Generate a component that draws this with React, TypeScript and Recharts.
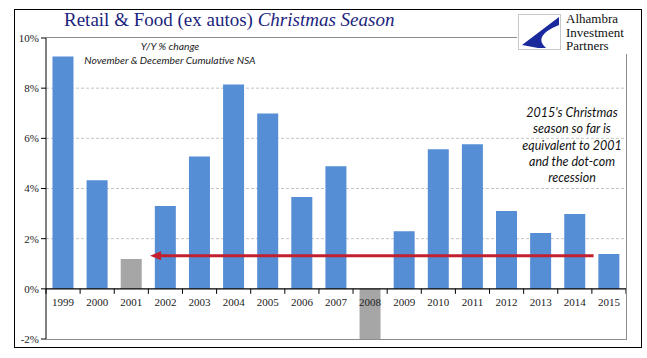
import { BarChart, Bar, Cell, XAxis, YAxis, CartesianGrid, ReferenceLine } from "recharts";

const years = ["1999", "2000", "2001", "2002", "2003", "2004", "2005", "2006", "2007", "2008", "2009", "2010", "2011", "2012", "2013", "2014", "2015"];
const yoyChange = [9.26, 4.33, 1.19, 3.3, 5.28, 8.15, 6.99, 3.66, 4.89, -2.0, 2.3, 5.56, 5.76, 3.1, 2.23, 2.98, 1.39];
const recessionYears = ["2001", "2008"];
const yTicks = [-2, 0, 2, 4, 6, 8, 10];
const arrowLevel = 1.32;
const noteLines = ["2015's Christmas", "season so far is", "equivalent to 2001", "and the dot-com", "recession"];

const data = years.map((year, i) => ({ year, value: yoyChange[i] }));

const W = 647;
const H = 358;
const PLOT_LEFT = 46;
const PLOT_TOP = 38;
const PLOT_W = 580;
const PLOT_H = 301;
const Y_MIN = -2;
const Y_MAX = 10;
const BAND = PLOT_W / years.length;
const ZERO_OFFSET = (PLOT_H * (0 - Y_MIN)) / (Y_MAX - Y_MIN);

const BLUE = "#558ed5";
const GRAY = "#a6a6a6";
const RED = "#c3202f";
const NAVY = "#1c1f7d";

const YearTick = (props: any) => {
  const { x, y, payload, index } = props;
  const zeroY = y - ZERO_OFFSET;
  return (
    <g>
      <line x1={x - BAND / 2} x2={x - BAND / 2} y1={zeroY} y2={zeroY + 5} stroke="#000" />
      {index === years.length - 1 && (
        <line x1={x + BAND / 2} x2={x + BAND / 2} y1={zeroY} y2={zeroY + 5} stroke="#000" />
      )}
      <text x={x} y={zeroY + 17} textAnchor="middle" fontFamily="Liberation Serif" fontSize={11} fill="#222">
        {payload.value}
      </text>
    </g>
  );
};

const Arrow = (props: any) => {
  const { x1, x2, y1 } = props;
  const start = x1 + BAND * 0.55;
  const end = x2 - BAND * 0.45;
  return (
    <g>
      <line x1={start + 8} x2={end} y1={y1} y2={y1} stroke={RED} strokeWidth={3} />
      <path d={`M${start},${y1} L${start + 11},${y1 - 4.5} L${start + 11},${y1 + 4.5} Z`} fill={RED} />
    </g>
  );
};

export default function App() {
  return (
    <div style={{ position: "absolute", left: 0, top: 0, width: W, height: H, background: "#fff", overflow: "hidden" }}>
      <BarChart
        width={W}
        height={H}
        data={data}
        margin={{ top: PLOT_TOP, right: W - PLOT_LEFT - PLOT_W, bottom: 0, left: 0 }}
        barCategoryGap="19%"
      >
        <CartesianGrid vertical={false} stroke="#c4c4c4" strokeDasharray="3 2" horizontalValues={[2, 4, 6, 8]} />
        <XAxis
          dataKey="year"
          height={H - PLOT_TOP - PLOT_H}
          axisLine={false}
          tickLine={false}
          tickSize={0}
          tickMargin={0}
          interval={0}
          tick={<YearTick />}
        />
        <YAxis
          width={PLOT_LEFT}
          domain={[Y_MIN, Y_MAX]}
          ticks={yTicks}
          interval={0}
          allowDataOverflow
          tickFormatter={(v: number) => `${v}%`}
          axisLine={{ stroke: "#000" }}
          tickLine={{ stroke: "#000" }}
          tickSize={5}
          tickMargin={2}
          tick={{ fontFamily: "Liberation Serif", fontSize: 11, fill: "#222" }}
        />
        <Bar dataKey="value" isAnimationActive={false}>
          {data.map((d) => (
            <Cell key={d.year} fill={recessionYears.includes(d.year) ? GRAY : BLUE} />
          ))}
        </Bar>
        <ReferenceLine y={0} stroke="#000" strokeWidth={1.2} />
        <ReferenceLine
          segment={[
            { x: "2001", y: arrowLevel },
            { x: "2015", y: arrowLevel },
          ]}
          shape={<Arrow />}
        />
      </BarChart>

      {/* plot frame */}
      <div
        style={{
          position: "absolute",
          left: PLOT_LEFT,
          top: PLOT_TOP - 1,
          width: PLOT_W,
          height: PLOT_H,
          borderTop: "1px solid #8c8c8c",
          borderRight: "1px solid #8c8c8c",
          borderBottom: "1px solid #8c8c8c",
          pointerEvents: "none",
        }}
      />

      {/* title */}
      <div
        style={{
          position: "absolute",
          left: 64,
          top: 9,
          fontFamily: "Liberation Serif",
          fontSize: 19,
          color: NAVY,
          whiteSpace: "nowrap",
        }}
      >
        Retail &amp; Food (ex autos) <i>Christmas Season</i>
      </div>

      {/* series caption */}
      <div
        style={{
          position: "absolute",
          left: 70,
          width: 200,
          top: 39,
          textAlign: "center",
          fontFamily: "Lato",
          fontStyle: "italic",
          fontSize: 10.3,
          lineHeight: "14px",
          color: "#222",
        }}
      >
        <div>Y/Y % change</div>
        <div>November &amp; December Cumulative NSA</div>
      </div>

      {/* note */}
      <div
        style={{
          position: "absolute",
          left: 512,
          width: 120,
          top: 105,
          textAlign: "center",
          fontFamily: "Lato",
          fontStyle: "italic",
          fontSize: 12.5,
          lineHeight: "16.3px",
          color: "#111",
        }}
      >
        {noteLines.map((l) => (
          <div key={l}>{l}</div>
        ))}
      </div>

      {/* logo */}
      <div style={{ position: "absolute", left: 517, top: 11, width: 122, height: 43, background: "#fff" }}>
        <svg width={44} height={37} style={{ position: "absolute", left: 1, top: 3 }}>
          <rect x={0.5} y={0.5} width={42} height={35} fill="#fff" stroke="#c8c8c8" />
          <path d="M41,3 L4,31 L20,34 L28,34 Q14,22 41,11 Z" fill="#1a2a9c" />
        </svg>
        <div
          style={{
            position: "absolute",
            left: 49,
            top: 1,
            fontFamily: "Liberation Serif",
            fontSize: 13,
            lineHeight: "13.5px",
            color: "#111",
          }}
        >
          <div>Alhambra</div>
          <div>Investment</div>
          <div>Partners</div>
        </div>
      </div>

      {/* outer border */}
      <div
        style={{
          position: "absolute",
          left: 14,
          top: 9,
          width: 626,
          height: 337,
          border: "1px solid #000",
          pointerEvents: "none",
        }}
      />
    </div>
  );
}
